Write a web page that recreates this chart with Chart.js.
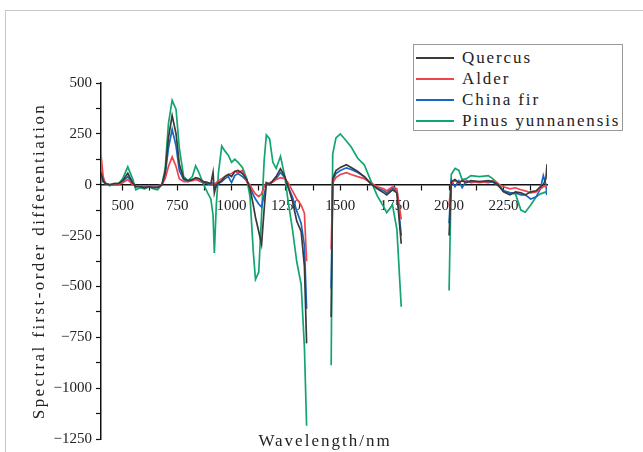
<!DOCTYPE html>
<html>
<head>
<meta charset="utf-8">
<script src="https://cdn.jsdelivr.net/npm/chart.js@4/dist/chart.umd.min.js"></script>
<style>
  html, body { margin: 0; padding: 0; background: #fff; }
  #wrap { position: relative; width: 643px; height: 452px; overflow: hidden; }
  #frame { position: absolute; left: 5px; top: 10px; right: -2px; bottom: -2px;
           border-top: 1px solid #c8c8c8; border-left: 1px solid #c8c8c8; }
  canvas { position: absolute; left: 0; top: 0; }
  #legend { position: absolute; left: 413px; top: 44px; width: 208px; height: 83px;
            border: 1px solid #999; background: #fff; padding-top: 2px;
            font: 17px "Liberation Serif", serif; letter-spacing: 1.9px; color: #222; }
  #legend .row { height: 21px; display: flex; align-items: center; white-space: nowrap; }
  #legend .swatch { width: 38px; height: 0; border-top: 2px solid; margin: 0 8px 0 2px; }
</style>
</head>
<body>
<div id="wrap">
  <div id="frame"></div>
  <canvas id="chart" width="643" height="452"></canvas>
  <div id="legend"></div>
</div>
<script>
// wavelength (nm), null rows mark the water absorption gaps
const wavelengths = [
  400,410,420,440,460,480,500,523,545,560,
  580,600,620,640,660,680,695,710,727,745,
  760,780,800,820,835,850,870,890,905,915,
  921,930,940,955,970,985,1000,1015,1030,1050,
  1070,1085,1100,1110,1125,1138,1150,1160,1175,1190,
  1205,1225,1245,1260,1280,1300,1320,1335,1345,1400,
  1458,1465,1480,1500,1528,1550,1580,1610,1640,1670,
  1700,1713,1740,1760,1780,1900,2000,2010,2027,2045,
  2060,2080,2100,2140,2180,2200,2225,2250,2280,2305,
  2330,2350,2375,2400,2420,2433,2445,2450
];

const quercus = [
  60,20,5,0,5,5,20,57,10,-10,
  -10,-15,-10,-15,-15,0,60,230,340,250,
  100,30,20,25,35,30,15,10,5,60,
  -40,0,10,20,40,50,40,65,70,55,
  25,-20,-100,-160,-230,-293,-120,10,0,20,
  40,78,40,-10,-80,-180,-230,-400,-780,null,
  -650,30,70,85,98,85,65,40,5,-20,
  -40,-50,-25,-40,-290,null,-250,15,25,10,
  20,10,20,15,20,15,0,-35,-50,-35,
  -40,-50,-35,-30,-10,0,30,100
];

const alder = [
  146,40,5,0,0,0,10,25,0,-5,
  -5,-5,-5,-5,-5,0,30,90,137,90,
  30,15,15,20,25,20,15,10,5,5,
  0,10,20,30,40,50,55,65,60,70,
  15,0,-30,-45,-58,-45,-10,10,5,15,
  25,35,30,10,-30,-70,-100,-140,-376,null,
  -317,10,35,50,59,50,40,30,10,-10,
  -20,-30,-10,-20,-170,null,-100,10,20,10,
  20,15,15,10,15,20,5,-10,-20,-15,
  -25,-30,-40,-35,-20,-10,-5,-10
];

const chinaFir = [
  50,15,5,0,0,5,15,40,5,-10,
  -5,-10,-5,-10,-10,0,50,180,272,190,
  70,25,15,25,30,20,10,5,0,10,
  -20,-10,5,15,30,40,10,45,55,40,
  20,-10,-50,-70,-95,-110,-50,0,10,15,
  30,60,35,-10,-60,-130,-190,-300,-610,null,
  -510,20,55,70,83,75,60,40,5,-15,
  -30,-40,-15,-30,-250,null,-190,20,-10,20,
  -15,20,10,15,10,15,-5,-30,-40,-40,
  -50,-50,-70,-60,-20,45,0,-50
];

const pinus = [
  50,20,10,-5,5,5,30,88,30,-25,
  -15,-20,-10,-20,-25,0,80,300,415,370,
  180,40,20,40,93,60,5,-40,-70,-150,
  -335,-100,60,190,165,145,110,125,110,85,
  30,-60,-330,-465,-430,-150,120,245,225,110,
  80,140,40,-80,-220,-380,-490,-800,-1185,null,
  -888,150,230,250,215,185,130,98,20,-55,
  -110,-137,-100,-220,-600,null,-520,50,80,70,
  25,30,45,40,45,30,5,-30,-40,-45,
  -125,-135,-100,-60,-45,-40,-35,-50
];

const seriesNames = ['Quercus', 'Alder', 'China fir', 'Pinus yunnanensis'];
const seriesColors = ['#3a3a3a', '#f2434a', '#1768c4', '#12a66e'];
const seriesValues = [quercus, alder, chinaFir, pinus];

const xTickLabels = [500, 750, 1000, 1250, 1500, 1750, 2000, 2250];
const yTickLabels = [500, 250, 0, -250, -500, -750, -1000, -1250];

const xTitle = 'Wavelength/nm';
const yTitle = 'Spectral first-order differentiation';

const tickFont = { family: 'Liberation Serif', size: 15 };
const minus = v => String(v).replace('-', '\u2212');

const datasets = seriesNames.map((name, i) => ({
  label: name,
  data: wavelengths.map((w, j) => ({ x: w, y: seriesValues[i][j] })),
  borderColor: seriesColors[i],
  borderWidth: 1.7,
  pointRadius: 0,
  tension: 0,
  spanGaps: false
}));

// axis titles drawn by hand: the x title sits at the foot of the figure,
// far from the zero-line axis, and both use wide letter spacing
const axisTitles = {
  id: 'axisTitles',
  afterDraw(chart) {
    const { ctx, chartArea } = chart;
    ctx.save();
    ctx.font = '17px "Liberation Serif"';
    ctx.fillStyle = '#222';
    ctx.textAlign = 'center';
    ctx.textBaseline = 'middle';
    ctx.letterSpacing = '2px';
    ctx.fillText(xTitle, (chartArea.left + chartArea.right) / 2 + 1, 442);
    ctx.translate(40, (chartArea.top + chartArea.bottom) / 2);
    ctx.rotate(-Math.PI / 2);
    ctx.letterSpacing = '2.4px';
    ctx.fillText(yTitle, 0, 0);
    ctx.restore();
  }
};

new Chart(document.getElementById('chart'), {
  type: 'line',
  data: { datasets },
  plugins: [axisTitles],
  options: {
    responsive: false,
    animation: false,
    layout: { padding: { left: 0, right: 96, top: 83, bottom: 11 } },
    plugins: { legend: { display: false }, tooltip: { enabled: false } },
    scales: {
      x: {
        type: 'linear',
        position: { y: 0 },
        min: 400,
        max: 2450,
        afterFit: s => { s.height = 0; },
        afterBuildTicks: s => {
          const t = [];
          for (let v = 500; v <= 2375; v += 125) t.push({ value: v });
          s.ticks = t;
        },
        border: { display: true, color: '#111', width: 1.5 },
        grid: { drawOnChartArea: false, color: '#111', tickLength: 5, tickWidth: 1.2 },
        ticks: {
          autoSkip: false,
          maxRotation: 0,
          padding: 7,
          color: '#222',
          font: tickFont,
          callback: v => xTickLabels.includes(v) ? String(v) : ''
        }
      },
      y: {
        type: 'linear',
        position: 'left',
        min: -1250,
        max: 500,
        afterFit: s => { s.width = 101; },
        border: { display: true, color: '#111', width: 1.5 },
        grid: { drawOnChartArea: false, color: '#111', tickLength: 5, tickWidth: 1.2 },
        ticks: {
          stepSize: 125,
          autoSkip: false,
          padding: 4,
          color: '#222',
          font: tickFont,
          callback: v => yTickLabels.includes(v) ? minus(v) : ''
        }
      }
    }
  }
});

// legend box
const legend = document.getElementById('legend');
seriesNames.forEach((name, i) => {
  const row = document.createElement('div');
  row.className = 'row';
  row.innerHTML = '<span class="swatch" style="border-color:' + seriesColors[i] + '"></span>' + name;
  legend.appendChild(row);
});
</script>
</body>
</html>
